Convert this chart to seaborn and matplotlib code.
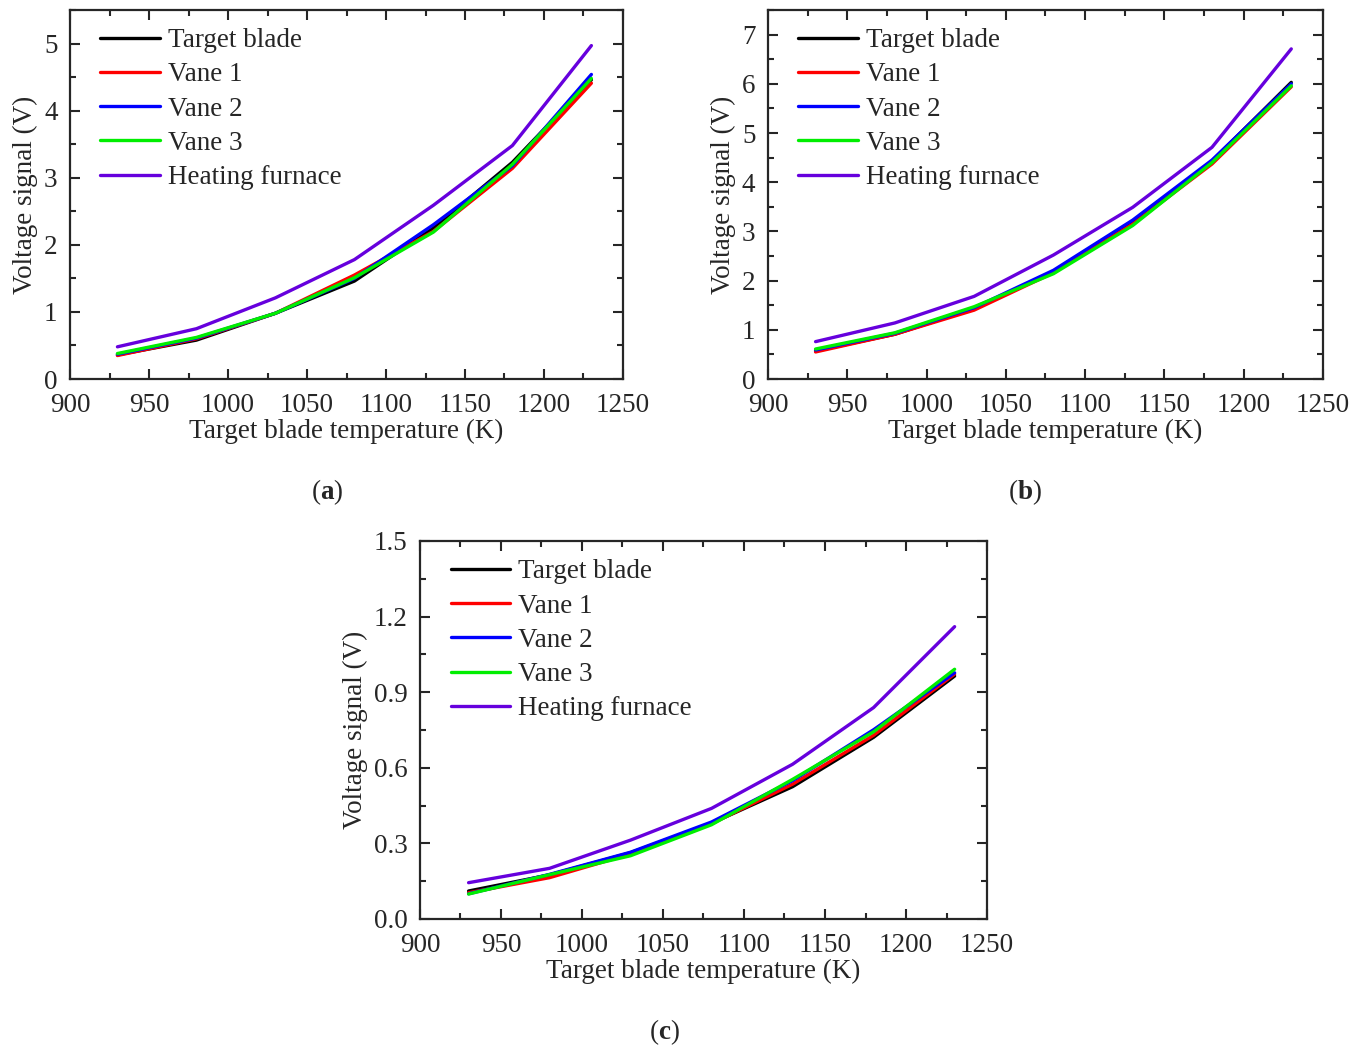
import numpy as np
import pandas as pd
import matplotlib
matplotlib.use('Agg')
import matplotlib.pyplot as plt
from matplotlib.ticker import MultipleLocator
import seaborn as sns

sns.set_style('ticks')
plt.rcParams['font.family'] = ['Liberation Serif', 'DejaVu Serif']
plt.rcParams['mathtext.fontset'] = 'custom'
plt.rcParams['mathtext.rm'] = 'Liberation Serif'
plt.rcParams['mathtext.bf'] = 'Liberation Serif:bold'

temps = [930, 980, 1030, 1080, 1130, 1180, 1230]
series = ['Target blade', 'Vane 1', 'Vane 2', 'Vane 3', 'Heating furnace']
colors = ['#000000', '#ff0000', '#0000ff', '#00ee00', '#6600dd']

# panel (a)
a_target = [0.36, 0.58, 0.98, 1.46, 2.25, 3.23, 4.46]
a_vane1 = [0.35, 0.60, 0.98, 1.55, 2.20, 3.14, 4.41]
a_vane2 = [0.37, 0.61, 0.98, 1.50, 2.30, 3.18, 4.54]
a_vane3 = [0.38, 0.62, 0.98, 1.51, 2.19, 3.20, 4.48]
a_furnace = [0.48, 0.75, 1.21, 1.78, 2.59, 3.48, 4.97]

# panel (b)
b_target = [0.57, 0.91, 1.43, 2.18, 3.17, 4.43, 6.03]
b_vane1 = [0.55, 0.91, 1.40, 2.16, 3.15, 4.37, 5.94]
b_vane2 = [0.59, 0.93, 1.45, 2.21, 3.23, 4.45, 6.00]
b_vane3 = [0.61, 0.94, 1.47, 2.14, 3.12, 4.40, 5.96]
b_furnace = [0.76, 1.14, 1.68, 2.52, 3.49, 4.71, 6.71]

# panel (c)
c_target = [0.111, 0.175, 0.263, 0.380, 0.525, 0.721, 0.964]
c_vane1 = [0.104, 0.164, 0.258, 0.378, 0.535, 0.729, 0.972]
c_vane2 = [0.100, 0.177, 0.265, 0.385, 0.549, 0.751, 0.977]
c_vane3 = [0.099, 0.176, 0.251, 0.374, 0.554, 0.743, 0.991]
c_furnace = [0.144, 0.201, 0.313, 0.439, 0.614, 0.839, 1.160]


def make_df(vals):
    rows = []
    for name, v in zip(series, vals):
        for t, y in zip(temps, v):
            rows.append({'T': t, 'V': y, 'Series': name})
    return pd.DataFrame(rows)


fig = plt.figure(figsize=(13.68, 10.45), dpi=100)
ax_a = fig.add_axes([0.0512, 0.6373, 0.4042, 0.3531])
ax_b = fig.add_axes([0.5614, 0.6373, 0.4057, 0.3531])
ax_c = fig.add_axes([0.3070, 0.1206, 0.4145, 0.3617])

panels = [
    (ax_a, [a_target, a_vane1, a_vane2, a_vane3, a_furnace], 5.5, 1),
    (ax_b, [b_target, b_vane1, b_vane2, b_vane3, b_furnace], 7.5, 1),
    (ax_c, [c_target, c_vane1, c_vane2, c_vane3, c_furnace], 1.5, 0.3),
]

fs = 19.5
for ax, vals, ymax, ystep in panels:
    df = make_df(vals)
    sns.lineplot(data=df, x='T', y='V', hue='Series', hue_order=series,
                 palette=colors, linewidth=2.4, ax=ax)
    ax.set_xlim(900, 1250)
    ax.set_ylim(0, ymax)
    ax.xaxis.set_major_locator(MultipleLocator(50))
    ax.xaxis.set_minor_locator(MultipleLocator(25))
    ax.yaxis.set_major_locator(MultipleLocator(ystep))
    ax.yaxis.set_minor_locator(MultipleLocator(ystep / 2))
    if ystep < 1:
        ax.yaxis.set_major_formatter(matplotlib.ticker.FormatStrFormatter('%.1f'))
    ax.tick_params(which='both', direction='in', top=True, right=True,
                   width=1.5, labelsize=fs)
    ax.tick_params(which='major', length=7)
    ax.tick_params(which='minor', length=4)
    ax.tick_params(axis='x', which='major', pad=10)
    ax.tick_params(axis='y', which='major', pad=9)
    for s in ax.spines.values():
        s.set_linewidth(1.6)
        s.set_visible(True)
    ax.set_xlabel('Target blade temperature (K)', fontsize=fs, labelpad=1)
    ax.set_ylabel('Voltage signal (V)', fontsize=fs, labelpad=4)
    ax.legend(loc='upper left', bbox_to_anchor=(0.035, 0.98), frameon=False,
              fontsize=fs, handlelength=2.2, handletextpad=0.3,
              labelspacing=0.34, borderaxespad=0.2, borderpad=0.2)

fig.text(0.239, 0.529, r'($\mathbf{a}$)', ha='center', va='center', fontsize=fs)
fig.text(0.749, 0.529, r'($\mathbf{b}$)', ha='center', va='center', fontsize=fs)
fig.text(0.486, 0.012, r'($\mathbf{c}$)', ha='center', va='center', fontsize=fs)

fig.savefig('out.png', dpi=100)
